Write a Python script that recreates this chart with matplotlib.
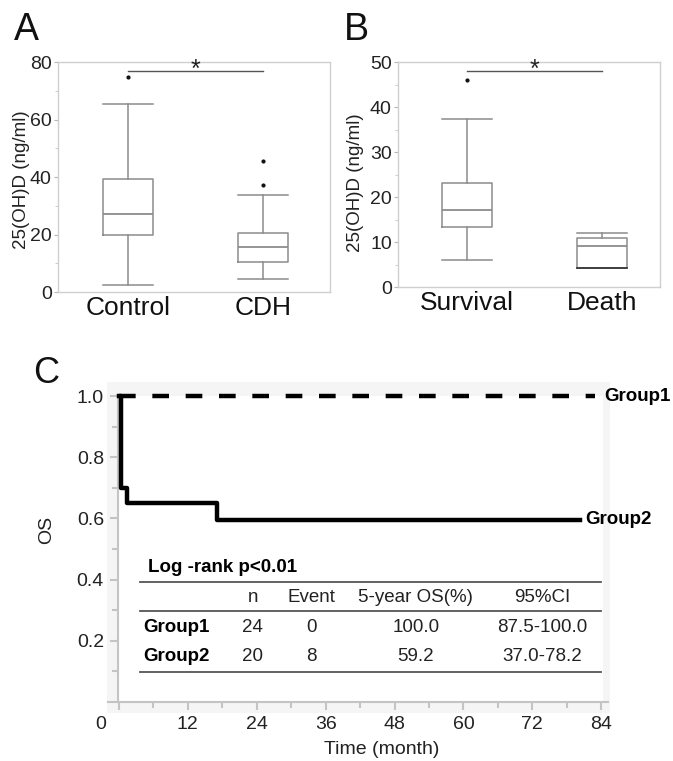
import matplotlib.pyplot as plt
from matplotlib.patches import Rectangle

plt.rcParams['font.family'] = ['Liberation Sans', 'DejaVu Sans']

W, H = 673, 761

# panel A: 25(OH)D, control vs CDH
groups_a = ['Control', 'CDH']
low_a = [2.4, 4.4]
q1_a = [19.8, 10.5]
med_a = [27.1, 15.8]
q3_a = [39.3, 20.4]
high_a = [65.5, 33.6]
fliers_a = [[74.8], [37.2, 45.6]]

# panel B: 25(OH)D, survival vs death
groups_b = ['Survival', 'Death']
low_b = [6.1, 4.2]
q1_b = [13.3, 4.2]
med_b = [17.2, 9.2]
q3_b = [23.1, 10.9]
high_b = [37.3, 12.1]
fliers_b = [[46.0], []]

# panel C: Kaplan-Meier curves
t_g1 = [0, 83]
s_g1 = [1.0, 1.0]
t_g2 = [0, 0.3, 1.4, 17.0, 80.3]
s_g2 = [1.0, 0.70, 0.65, 0.595, 0.595]

table_head = ['n', 'Event', '5-year OS(%)', '95%CI']
table_rows = ['Group1', 'Group2']
table_n = ['24', '20']
table_event = ['0', '8']
table_os = ['100.0', '59.2']
table_ci = ['87.5-100.0', '37.0-78.2']


def px_axes(l, t, r, b):
    return [l / W, 1 - b / H, (r - l) / W, (b - t) / H]


def box_panel(ax, names, lo, q1, med, q3, hi, fl, ymax, major, minor, xlim, sig):
    stats = []
    for i in range(len(names)):
        stats.append(dict(label=names[i], whislo=lo[i], q1=q1[i], med=med[i],
                          q3=q3[i], whishi=hi[i], fliers=fl[i]))
    gray = '#8c8c8c'
    ax.bxp(stats, positions=[1, 2], widths=0.37, capwidths=0.37,
           boxprops=dict(color=gray, lw=1.1),
           whiskerprops=dict(color=gray, lw=1.1),
           capprops=dict(color=gray, lw=1.1),
           medianprops=dict(color=gray, lw=1.3),
           flierprops=dict(marker='o', markerfacecolor='#111', markeredgecolor='#111',
                           markersize=2.0, linestyle='none'))
    # significance bar
    ax.plot([1, 2], [sig, sig], color='#555555', lw=1.0, clip_on=False)
    ax.text(1.5, sig + ymax * 0.005, '*', ha='center', va='center', fontsize=18, color='#222')
    ax.set_xlim(xlim)
    ax.set_ylim(0, ymax)
    ax.set_yticks(major)
    ax.set_yticks(minor, minor=True)
    for s in ax.spines.values():
        s.set_color('#cfcfcf')
        s.set_linewidth(1.0)
    ax.tick_params(axis='y', which='major', length=3, color='#b5b5b5', labelsize=14,
                   labelcolor='#222', pad=1.5)
    ax.tick_params(axis='y', which='minor', length=2, color='#c5c5c5')
    ax.tick_params(axis='x', length=0, labelsize=19, labelcolor='#111', pad=3)


fig = plt.figure(figsize=(W / 100, H / 100), dpi=100)

axA = fig.add_axes(px_axes(58, 62, 330, 292))
box_panel(axA, groups_a, low_a, q1_a, med_a, q3_a, high_a, fliers_a, 80,
          [0, 20, 40, 60, 80], [10, 30, 50, 70], (0.48, 2.495), 76.9)

axB = fig.add_axes(px_axes(398, 62, 660, 287))
box_panel(axB, groups_b, low_b, q1_b, med_b, q3_b, high_b, fliers_b, 50,
          [0, 10, 20, 30, 40, 50], [5, 15, 25, 35, 45], (0.487, 2.43), 48.0)
# collapsed lower whisker of the Death group shows as a darker edge
axB.plot([1.815, 2.185], [low_b[1], low_b[1]], color='#333333', lw=1.2)

fig.text(22 / W, 1 - 180 / H, '25(OH)D (ng/ml)', rotation=90, ha='center', va='center',
         fontsize=13.5, color='#222')
fig.text(355 / W, 1 - 183 / H, '25(OH)D (ng/ml)', rotation=90, ha='center', va='center',
         fontsize=13.5, color='#222')

fig.text(26 / W, 1 - 30 / H, 'A', ha='center', va='center', fontsize=27, color='#111')
fig.text(356 / W, 1 - 30 / H, 'B', ha='center', va='center', fontsize=27, color='#111')
fig.text(46 / W, 1 - 374 / H, 'C', ha='center', va='center', fontsize=26, color='#111')

# panel C
axC = fig.add_axes(px_axes(107.5, 382, 609.8, 713))
axC.set_xlim(-2, 85.5)
axC.set_ylim(-0.036, 1.046)
axC.set_facecolor('#f5f5f5')
axC.add_patch(Rectangle((-0.2, 0), 84.5, 1.0, facecolor='white', edgecolor='none', zorder=0))

axC.plot(t_g1, s_g1, color='black', lw=3.2, dashes=(3.75, 3.75), solid_capstyle='butt',
         dash_capstyle='butt', clip_on=False, zorder=3)
axC.plot(t_g2, s_g2, color='black', lw=3.2, drawstyle='steps-post', clip_on=False, zorder=3)
axC.text(84.5, s_g1[-1], 'Group1', ha='left', va='center', fontsize=13.5,
         fontweight='bold', clip_on=False)
axC.text(81.2, s_g2[-1], 'Group2', ha='left', va='center', fontsize=13.5,
         fontweight='bold', clip_on=False)

for side in ['top', 'right']:
    axC.spines[side].set_visible(False)
axC.spines['left'].set_position(('data', -0.2))
axC.spines['bottom'].set_position(('data', 0))
axC.spines['left'].set_bounds(0, 1.0)
axC.spines['bottom'].set_bounds(-1.9, 85.2)
for side in ['left', 'bottom']:
    axC.spines[side].set_color('#c4c4c4')
    axC.spines[side].set_linewidth(1.5)

axC.set_xticks(range(0, 85, 12))
axC.set_xticklabels([''] + [str(v) for v in range(12, 85, 12)])
axC.set_xticks(range(6, 84, 12), minor=True)
axC.set_yticks([0.2, 0.4, 0.6, 0.8, 1.0])
axC.set_yticks([0.1, 0.3, 0.5, 0.7, 0.9], minor=True)
axC.tick_params(which='major', length=6, width=1.5, color='#c4c4c4', labelsize=14,
                labelcolor='#222', pad=4)
axC.tick_params(which='minor', length=4, width=1.5, color='#c4c4c4')
axC.text(-3.1, -0.072, '0', ha='center', va='center', fontsize=14, color='#222',
         clip_on=False)
axC.set_xlabel('Time (month)', fontsize=14, color='#222')
axC.xaxis.set_label_coords((382 - 107.5) / 502.3, -0.085)
fig.text(47 / W, 1 - 530 / H, 'OS', rotation=90, ha='center', va='center', fontsize=14,
         color='#222')

# table inside panel C
line_x = [3.7, 84]
for yv in [0.392, 0.297, 0.098]:
    axC.plot(line_x, [yv, yv], color='#555555', lw=1.3)
axC.text(5.0, 0.441, 'Log -rank p<0.01', ha='left', va='center', fontsize=13.5,
         fontweight='bold')
col_x = [23.3, 33.6, 51.7, 73.8]
for cx, txt in zip(col_x, table_head):
    axC.text(cx, 0.343, txt, ha='center', va='center', fontsize=13.5, color='#222')
row_y = [0.242, 0.150]
for i, ry in enumerate(row_y):
    axC.text(4.3, ry, table_rows[i], ha='left', va='center', fontsize=13.5, fontweight='bold')
    vals = [table_n[i], table_event[i], table_os[i], table_ci[i]]
    for cx, txt in zip(col_x, vals):
        axC.text(cx, ry, txt, ha='center', va='center', fontsize=13.5, color='#222')

fig.savefig('out.png', dpi=100)
